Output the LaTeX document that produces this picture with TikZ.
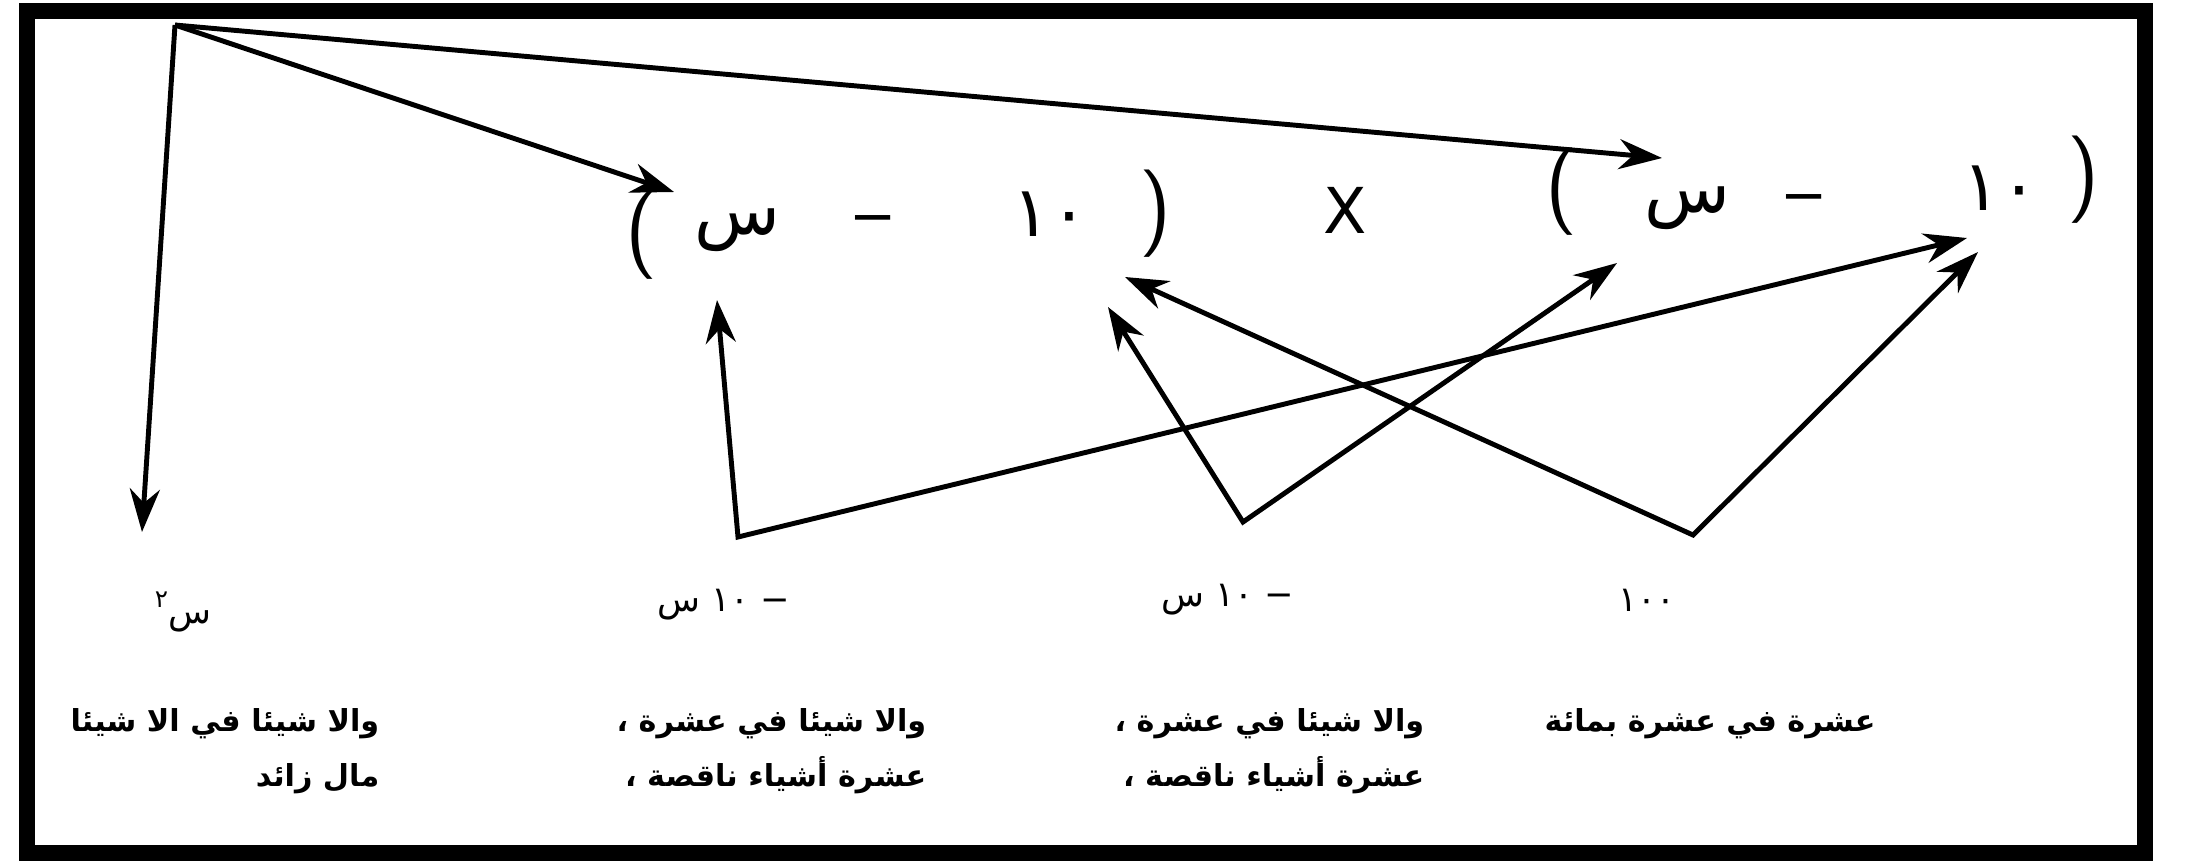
\documentclass[tikz,border=0pt]{standalone}
\usepackage{fontspec}
\usepackage{tikz}
\usetikzlibrary{arrows.meta, positioning, calc}
\TeXXeTstate=1
\newfontfamily\arabicfont[Script=Arabic]{DejaVu Sans}
\newfontfamily\latinfont{DejaVu Sans}

\begin{document}
\begin{tikzpicture}[
    x=0.01cm, y=-0.01cm,
    par/.style={font=\fontencoding{OT1}\fontfamily{cmss}\fontseries{m}\fontsize{25}{28}\selectfont, inner sep=0pt},
    t/.style={font=\arabicfont\fontsize{20}{24}\selectfont, inner sep=0pt},
    minus/.style={font=\arabicfont\fontsize{16}{20}\selectfont, inner sep=0pt},
    num/.style={font=\arabicfont\fontsize{10}{12}\selectfont, inner sep=0pt},
    note/.style={font=\arabicfont\bfseries\fontsize{8.6}{15.5}\selectfont, inner sep=0pt, align=right},
    arr/.style={-{Stealth[length=4.3mm, width=3mm]}, line width=1.4pt},
    arrs/.style={{Stealth[length=4.3mm, width=3mm]}-{Stealth[length=4.3mm, width=3mm]}, line width=1.4pt},
  ]
    \useasboundingbox (0,0) rectangle (2187,866);
    \draw[line width=4.5pt] (27,11) rectangle (2145,853);

    % first factor
    \node[par] (lp1) at (641,236) {(};
    \node[t] (s1) at (737,230) {س};
    \node[minus] (m1) at (873,226) {−};
    \node[t] (ten1) at (1050,214) {١٠};
    \node[par] (rp1) at (1155,214) {)};

    \node[font=\latinfont\fontsize{18}{20}\selectfont, inner sep=0pt] (times) at (1345,210) {X};

    % second factor
    \node[par] (lp2) at (1561,192) {(};
    \node[t] (s2) at (1687,208) {س};
    \node[minus] (m2) at (1804,205) {−};
    \node[t] (ten2) at (2000,188) {١٠};
    \node[par] (rp2) at (2083,180) {)};

    % meeting points
    \coordinate (apex) at (175,25);
    \coordinate (v1) at (738,537);
    \coordinate (v2) at (1243,522);
    \coordinate (v3) at (1693,535);

    % arrow ends
    \coordinate (sqin) at (142,532);
    \coordinate (lp1in) at (674,192);
    \coordinate (lp2in) at (1662,158);
    \coordinate (s1in) at (717,300);
    \coordinate (ten1ina) at (1108,307);
    \coordinate (ten1inb) at (1125,277);
    \coordinate (s2in) at (1617,263);
    \coordinate (ten2ina) at (1967,238);
    \coordinate (ten2inb) at (1978,252);

    \draw[arr] (apex) -- (sqin);
    \draw[arr] (apex) -- (lp1in);
    \draw[arr] (apex) -- (lp2in);
    \draw[arrs] (s1in) -- (v1) -- (ten2ina);
    \draw[arrs] (ten1ina) -- (v2) -- (s2in);
    \draw[arrs] (ten1inb) -- (v3) -- (ten2inb);

    % partial products
    \node[num] (sq) at (183,612) {\beginR س\raisebox{0.8ex}{\fontsize{7}{8}\selectfont ٢}\endR};
    \node[num] (tena) at (724,605) {\beginR − ١٠ س\endR};
    \node[num] (tenb) at (1228,600) {\beginR − ١٠ س\endR};
    \node[num] (hundred) at (1647,600) {١٠٠};

    \node[note, anchor=north east] (sqnote) at (380,708)
      {\beginR والا شيئا في الا شيئا\endR\\\beginR مال زائد\endR};
    \node[note, anchor=north east] (tenanote) at (927,708)
      {\beginR والا شيئا في عشرة ،\endR\\\beginR عشرة أشياء ناقصة ،\endR};
    \node[note, anchor=north east] (tenbnote) at (1425,708)
      {\beginR والا شيئا في عشرة ،\endR\\\beginR عشرة أشياء ناقصة ،\endR};
    \node[note, anchor=north west] (hundrednote) at (1544,708)
      {\beginR عشرة في عشرة بمائة\endR};
\end{tikzpicture}
\end{document}
